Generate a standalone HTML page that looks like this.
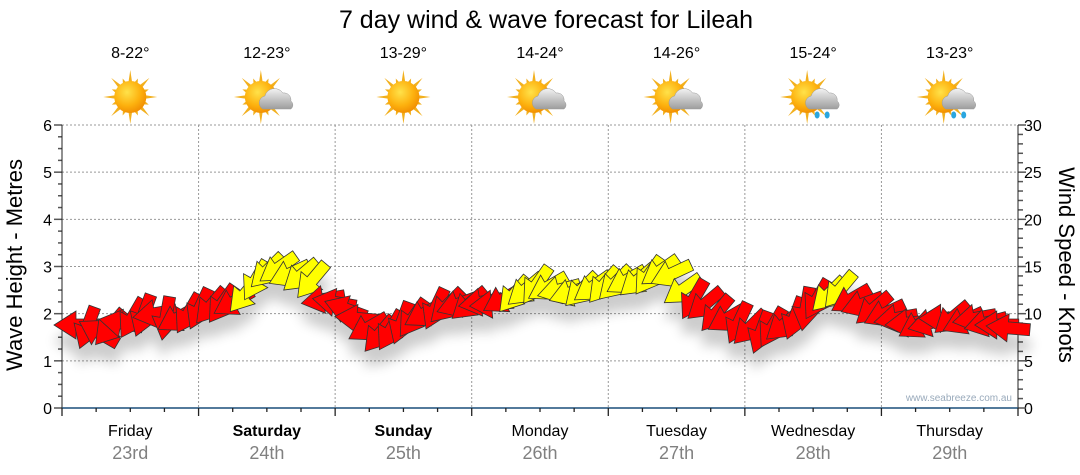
<!DOCTYPE html>
<html><head><meta charset="utf-8"><style>
body{margin:0;background:#fff;}
svg{display:block;font-family:"Liberation Sans","DejaVu Sans",sans-serif;}
</style></head><body>
<svg id="chart" width="1080" height="475" viewBox="0 0 1080 475">
<defs>
<radialGradient id="sunG" cx="0.4" cy="0.35" r="0.7"><stop offset="0" stop-color="#ffe24a"/><stop offset="0.6" stop-color="#fdb10e"/><stop offset="1" stop-color="#f08a00"/></radialGradient>
<linearGradient id="cloudG" x1="0" y1="0" x2="0" y2="1"><stop offset="0" stop-color="#f2f2f2"/><stop offset="1" stop-color="#9d9d9d"/></linearGradient>
<filter id="shadow" x="-20%" y="-20%" width="140%" height="160%"><feGaussianBlur in="SourceAlpha" stdDeviation="6"/><feOffset dy="16" result="b"/><feComponentTransfer><feFuncA type="linear" slope="0.2"/></feComponentTransfer><feMerge><feMergeNode/><feMergeNode in="SourceGraphic"/></feMerge></filter>
</defs>
<text x="546" y="28" font-size="25" text-anchor="middle" fill="#000">7 day wind &amp; wave forecast for Lileah</text>
<g id="grid"></g><g id="axes"></g><g id="icons"></g><g id="arrows" filter="url(#shadow)"></g>
<text transform="translate(22,265) rotate(-90)" font-size="22" text-anchor="middle">Wave Height - Metres</text>
<text transform="translate(1059,265) rotate(90)" font-size="22" text-anchor="middle">Wind Speed - Knots</text>
<text x="1012" y="401" font-size="10" text-anchor="end" fill="#9ab">www.seabreeze.com.au</text>
</svg>
<script>
const days=["Friday","Saturday","Sunday","Monday","Tuesday","Wednesday","Thursday"];
const dates=["23rd","24th","25th","26th","27th","28th","29th"];
const boldDays=[false,true,true,false,false,false,false];
const temps=["8-22°","12-23°","13-29°","14-24°","14-26°","15-24°","13-23°"];
const weather=["sun","partcloud","sun","partcloud","partcloud","rain","rain"];
const leftTicks=[0,1,2,3,4,5,6];
const rightTicks=[0,5,10,15,20,25,30];
const windSpeed=[8.8,8.5,8,8.5,9,9.5,9.8,10,9.5,9.5,10,10.5,10.8,11,11.2,12,13.5,14.5,14.8,14.2,14,13.5,11.5,11.2,10.5,9.5,8.5,7.8,8.2,9,9.5,10,10.5,10.8,11,11,11.2,11,11.5,12,12.5,13,12.8,12.5,12.2,12.5,12.8,13,13.2,13.5,13.5,14,14.5,14.2,12.5,11.5,11,10,9.5,9,8.5,8,8.5,8.8,9.5,10.5,11.5,12,12.5,11.5,11,10.5,10,9.5,9,8.8,9,9.5,9.5,9.2,9.5,9,8.8,8.5];
const windDir=[90,20,120,40,100,30,20,80,10,60,30,25,40,35,60,40,30,45,55,65,50,40,80,100,110,95,60,40,30,20,35,60,25,45,70,50,80,85,60,40,50,35,60,75,70,45,55,40,45,60,50,35,55,65,55,30,50,40,60,25,45,20,30,50,20,10,30,45,40,60,70,50,65,80,85,60,75,90,50,65,80,75,90,95];
const NS="http://www.w3.org/2000/svg";
const X0=62,X1=1018,Y0=408,Y1=125,DW=(X1-X0)/7;
const yM=m=>Y0-m/6*(Y0-Y1), yK=k=>Y0-k/30*(Y0-Y1);
function mk(tag,attrs,parent){const e=document.createElementNS(NS,tag);for(const k in attrs)e.setAttribute(k,attrs[k]);parent.appendChild(e);return e;}
const grid=document.getElementById('grid'),axes=document.getElementById('axes'),icons=document.getElementById('icons'),arrows=document.getElementById('arrows');
leftTicks.forEach((m,i)=>{
 if(m>0){const l=mk('line',{x1:X0,x2:X1,y1:yM(m),y2:yM(m),stroke:'#999','stroke-dasharray':'2,2','stroke-width':1},grid);
 
 }
 const t=mk('text',{x:X0-10,y:yM(m)+6,'font-size':16,'text-anchor':'end'},axes);t.textContent=m;
 
 
});
rightTicks.forEach(k=>{const t=mk('text',{x:X1+6,y:yK(k)+6,'font-size':16},axes);t.textContent=k;
 
 });
for(let i=0;i<=24;i++){const y=Y0-i*(Y0-Y1)/24;mk('line',{x1:X0-(i%4?4:8),x2:X0,y1:y,y2:y,stroke:'#555','stroke-width':1.5},axes);}
for(let i=0;i<=30;i++){const y=yK(i);mk('line',{x1:X1,x2:X1+(i%5?5:8),y1:y,y2:y,stroke:'#555','stroke-width':1.5},axes);}
mk('line',{x1:X0,x2:X0,y1:Y1,y2:Y0,stroke:'#222','stroke-width':1},axes);
mk('line',{x1:X1,x2:X1,y1:Y1,y2:Y0,stroke:'#222','stroke-width':1},axes);
mk('line',{x1:X0,x2:X1,y1:Y0,y2:Y0,stroke:'#1a4f7a','stroke-width':1.5},axes);
for(let i=0;i<=28;i++){const x=X0+i*DW/4;mk('line',{x1:x,x2:x,y1:Y0,y2:Y0+(i%4?4:8),stroke:'#222','stroke-width':1.3},axes);}
days.forEach((d,i)=>{
 const cx=X0+DW*(i+0.5);
 if(i>0){const l=mk('line',{x1:X0+DW*i,x2:X0+DW*i,y1:Y1,y2:Y0,stroke:'#999','stroke-dasharray':'2,2'},grid);
 
 }
 const t=mk('text',{x:cx,y:436,'font-size':16,'text-anchor':'middle','font-weight':boldDays[i]?'bold':'normal'},axes);t.textContent=d;
 
 
 const t2=mk('text',{x:cx,y:459,'font-size':18,'text-anchor':'middle',fill:'#808080'},axes);t2.textContent=dates[i];
 
 
 const t3=mk('text',{x:cx,y:58,'font-size':16,'text-anchor':'middle'},icons);t3.textContent=temps[i];
 
 
 const g=mk('g',{transform:`translate(${cx},97)`},icons);
 
 
 const sx=weather[i]==='sun'?0:-6;
 for(let a=0;a<16;a++){const r=a%2?20:27;const ang=a*Math.PI/8;mk('polygon',{points:`${sx+Math.cos(ang-0.12)*15},${Math.sin(ang-0.12)*15} ${sx+Math.cos(ang)*r},${Math.sin(ang)*r} ${sx+Math.cos(ang+0.12)*15},${Math.sin(ang+0.12)*15}`,fill:'#f2b01e'},g);}
 mk('circle',{cx:sx,cy:0,r:16,fill:'url(#sunG)'},g);
 if(weather[i]!=='sun'){mk('path',{d:'M-4,12 a7,7 0 0 1 2,-13 a10,10 0 0 1 18,-3 a7,7 0 0 1 8,8 a5,5 0 0 1 0,8 z',fill:'url(#cloudG)',stroke:'#999','stroke-width':0.5},g);}
 if(weather[i]==='rain'){mk('ellipse',{cx:4,cy:18,rx:2.5,ry:3.5,fill:'#2aa6e0'},g);mk('ellipse',{cx:14,cy:18,rx:2.5,ry:3.5,fill:'#2aa6e0'},g);}
});
const n=windSpeed.length, step=(X1-X0-24)/(n-1);
windSpeed.forEach((s,i)=>{
 const x=X0+14+i*step, y=yK(s), rot=windDir[i]+90;
 const p=mk('polygon',{points:'22,0 0,-14 0,-6 -22,-6 -22,6 0,6 0,14',transform:`translate(${x},${y}) rotate(${rot})`,fill:s>=11.9?'#ffff00':'#ff0000',stroke:'#333','stroke-width':0.8},arrows);
 
 
});
</script>
</body></html>
